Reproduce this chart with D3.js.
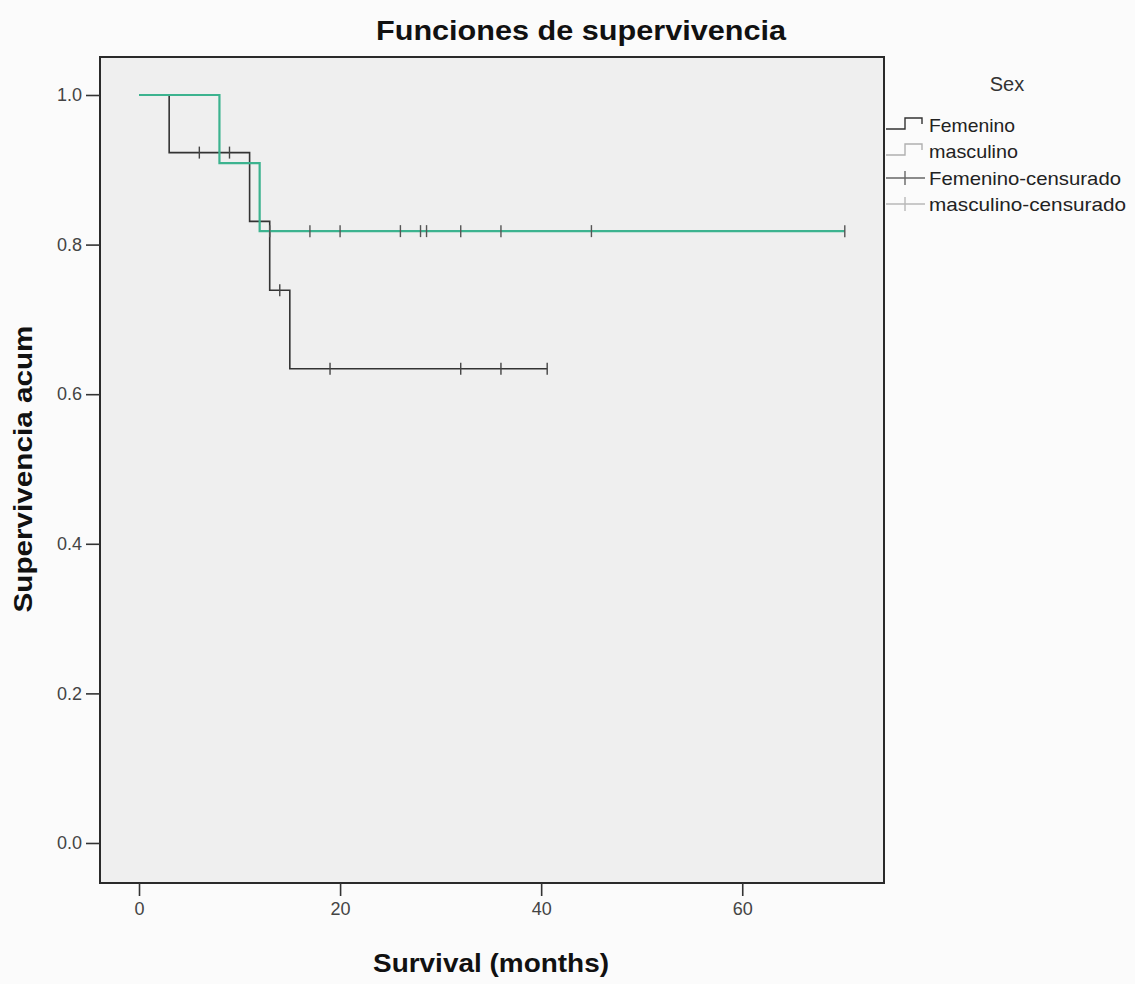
<!DOCTYPE html>
<html><head><meta charset="utf-8">
<script src="https://cdn.jsdelivr.net/npm/d3@7"></script>
<style>body{margin:0;background:#fbfbfb;}svg{display:block;font-family:"Liberation Sans",Arial,sans-serif;}</style>
</head><body>
<svg id="c" width="1135" height="984"></svg>
<script>
// Data
const xTicks = [0, 20, 40, 60];
const yTicks = [0.0, 0.2, 0.4, 0.6, 0.8, 1.0];
const femTime = [0, 3, 11, 13, 15, 40.6];
const femSurv = [1.0, 0.923, 0.831, 0.739, 0.634, 0.634];
const femCensor = [6, 9, 14, 19, 32, 36, 40.6];
const masTime = [0, 8, 12, 70.2];
const masSurv = [1.0, 0.909, 0.818, 0.818];
const masCensor = [13, 17, 20, 26, 28, 28.6, 32, 36, 45, 70.2];
const legendLabels = ["Femenino", "masculino", "Femenino-censurado", "masculino-censurado"];

const svg = d3.select("#c");
const L = 100, R = 884, T = 57, B = 883;
const x = d3.scaleLinear().domain([-3.88, 74.1]).range([L, R]);
const y = d3.scaleLinear().domain([-0.0535, 1.0508]).range([B, T]);

svg.append("rect").attr("x", L).attr("y", T).attr("width", R - L).attr("height", B - T)
  .attr("fill", "#efefef");

// curves
const line = d3.line().x(d => x(d[0])).y(d => y(d[1])).curve(d3.curveStepAfter);
const femPts = femTime.map((t, i) => [t, femSurv[i]]);
const masPts = masTime.map((t, i) => [t, masSurv[i]]);
svg.append("path").attr("d", line(femPts)).attr("fill", "none").attr("stroke", "#333").attr("stroke-width", 1.6);
svg.append("path").attr("d", line(masPts)).attr("fill", "none").attr("stroke", "#3cb38f").attr("stroke-width", 2.2);

function survAt(times, surv, t) {
  let s = surv[0];
  for (let i = 0; i < times.length; i++) if (times[i] <= t) s = surv[i];
  return s;
}
svg.append("g").selectAll("line").data(masCensor).join("line")
  .attr("x1", d => x(d)).attr("x2", d => x(d))
  .attr("y1", d => y(survAt(masTime, masSurv, d)) - 6)
  .attr("y2", d => y(survAt(masTime, masSurv, d)) + 6)
  .attr("stroke", "#555").attr("stroke-width", 1.4);
svg.append("g").selectAll("line").data(femCensor).join("line")
  .attr("x1", d => x(d)).attr("x2", d => x(d))
  .attr("y1", d => y(survAt(femTime, femSurv, d)) - 6)
  .attr("y2", d => y(survAt(femTime, femSurv, d)) + 6)
  .attr("stroke", "#444").attr("stroke-width", 1.4);

// frame
svg.append("rect").attr("x", L).attr("y", T).attr("width", R - L).attr("height", B - T)
  .attr("fill", "none").attr("stroke", "#2a2a2a").attr("stroke-width", 2);

// axes
const xAxis = svg.append("g").attr("transform", `translate(0,${B})`)
  .call(d3.axisBottom(x).tickValues(xTicks).tickFormat(d3.format("d")).tickSize(13).tickPadding(6));
const yAxis = svg.append("g").attr("transform", `translate(${L},0)`)
  .call(d3.axisLeft(y).tickValues(yTicks).tickFormat(d3.format(".1f")).tickSize(14).tickPadding(4));
[xAxis, yAxis].forEach(a => {
  a.select(".domain").remove();
  a.selectAll(".tick line").attr("stroke", "#333").attr("stroke-width", 1.6);
  a.selectAll(".tick text").attr("fill", "#444").style("font-size", "18px").style("font-family", "Liberation Sans, Arial, sans-serif");
});

// titles
svg.append("text").attr("x", 581).attr("y", 40).attr("text-anchor", "middle")
  .attr("font-weight", "bold").style("font-size", "27px").attr("fill", "#111")
  .attr("textLength", 410).attr("lengthAdjust", "spacingAndGlyphs")
  .text("Funciones de supervivencia");
svg.append("text").attr("x", 491).attr("y", 972).attr("text-anchor", "middle")
  .attr("font-weight", "bold").style("font-size", "25px").attr("fill", "#111")
  .attr("textLength", 236).attr("lengthAdjust", "spacingAndGlyphs")
  .text("Survival (months)");
svg.append("text").attr("transform", "translate(32,469) rotate(-90)").attr("text-anchor", "middle")
  .attr("font-weight", "bold").style("font-size", "25px").attr("fill", "#111")
  .attr("textLength", 287).attr("lengthAdjust", "spacingAndGlyphs")
  .text("Supervivencia acum");

// legend
const lg = svg.append("g");
lg.append("text").attr("x", 1007).attr("y", 91).attr("text-anchor", "middle")
  .style("font-size", "20px").attr("fill", "#333").text("Sex");
const rowY = [125, 151, 178, 204];
const symCol = ["#333", "#b0b0b0", "#666", "#b8b8b8"];
const widths = [86, 89, 192, 197];
legendLabels.forEach((lab, i) => {
  const yy = rowY[i];
  if (i < 2) {
    lg.append("path").attr("d", `M886,${yy + 4}H905V${yy - 7}H922V${yy - 1}`)
      .attr("fill", "none").attr("stroke", symCol[i]).attr("stroke-width", 1.4);
  } else {
    lg.append("line").attr("x1", 886).attr("x2", 925).attr("y1", yy).attr("y2", yy)
      .attr("stroke", symCol[i]).attr("stroke-width", 1.4);
    lg.append("line").attr("x1", 905).attr("x2", 905).attr("y1", yy - 7).attr("y2", yy + 7)
      .attr("stroke", symCol[i]).attr("stroke-width", 1.4);
  }
  lg.append("text").attr("x", 929).attr("y", yy + 7).style("font-size", "19px").attr("fill", "#222")
    .attr("textLength", widths[i]).attr("lengthAdjust", "spacingAndGlyphs").text(lab);
});
</script>
</body></html>
